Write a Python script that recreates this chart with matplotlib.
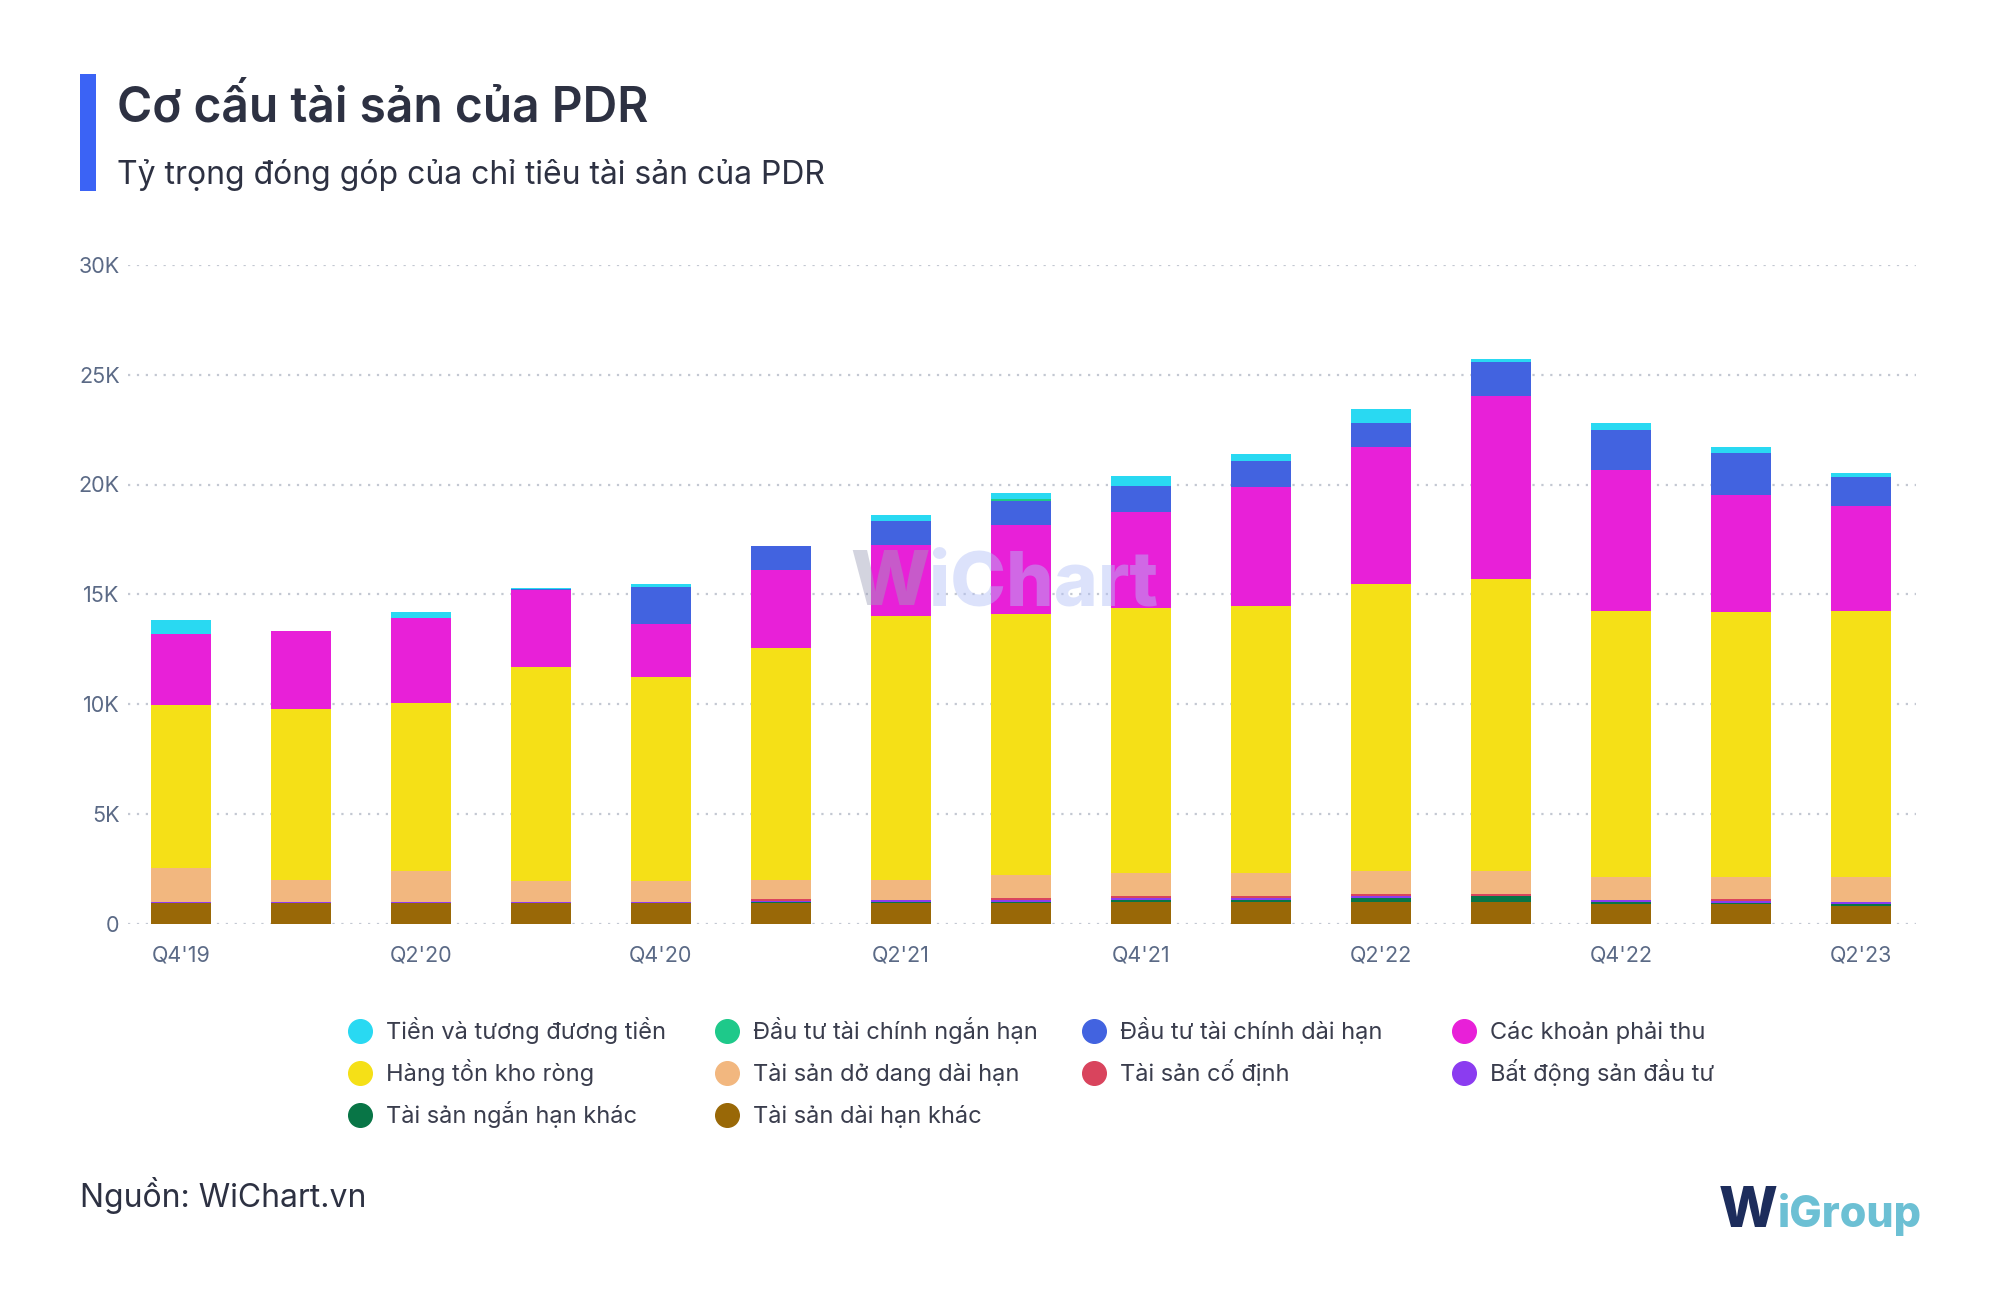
import numpy as np
import matplotlib.pyplot as plt
from matplotlib.lines import Line2D
from matplotlib.patches import Rectangle

plt.rcParams['font.family'] = ['Inter', 'DejaVu Sans']

# Quarters on the x axis
quarters = ["Q4'19", "Q1'20", "Q2'20", "Q3'20", "Q4'20", "Q1'21", "Q2'21", "Q3'21",
            "Q4'21", "Q1'22", "Q2'22", "Q3'22", "Q4'22", "Q1'23", "Q2'23"]

# Values in billion VND (bottom of the stack first)
tai_san_dai_han_khac = [940, 940, 940, 940, 940, 940, 940, 940, 1000, 1000, 1000, 1000, 910, 910, 820]
tai_san_ngan_han_khac = [0, 0, 0, 0, 0, 60, 60, 60, 80, 80, 180, 270, 90, 20, 90]
bat_dong_san_dau_tu = [60, 60, 60, 60, 60, 20, 90, 90, 100, 100, 90, 0, 90, 90, 90]
tai_san_co_dinh = [0, 0, 0, 0, 0, 90, 0, 90, 90, 90, 90, 90, 0, 90, 0]
tai_san_do_dang = [1550, 1000, 1370, 920, 920, 890, 910, 1020, 1010, 1010, 1010, 1010, 1010, 990, 1100]
hang_ton_kho = [7390, 7770, 7690, 9770, 9300, 10560, 12030, 11900, 12100, 12200, 13100, 13330, 12140, 12090, 12140]
cac_khoan_phai_thu = [3260, 3540, 3840, 3510, 2440, 3540, 3220, 4040, 4370, 5400, 6220, 8310, 6400, 5340, 4770]
dttc_dai_han = [0, 0, 0, 50, 1690, 1110, 1070, 1100, 1190, 1170, 1100, 1570, 1860, 1920, 1340]
dttc_ngan_han = [0, 0, 0, 0, 0, 0, 0, 100, 0, 0, 0, 0, 0, 0, 0]
tien = [640, 0, 290, 50, 120, 0, 280, 250, 460, 350, 640, 120, 290, 240, 170]

series = [
    ('Tài sản dài hạn khác', tai_san_dai_han_khac, '#996807'),
    ('Tài sản ngắn hạn khác', tai_san_ngan_han_khac, '#087546'),
    ('Bất động sản đầu tư', bat_dong_san_dau_tu, '#8b3cf0'),
    ('Tài sản cố định', tai_san_co_dinh, '#d9445d'),
    ('Tài sản dở dang dài hạn', tai_san_do_dang, '#f2b77f'),
    ('Hàng tồn kho ròng', hang_ton_kho, '#f5e017'),
    ('Các khoản phải thu', cac_khoan_phai_thu, '#e820d8'),
    ('Đầu tư tài chính dài hạn', dttc_dai_han, '#4263e0'),
    ('Đầu tư tài chính ngắn hạn', dttc_ngan_han, '#1ec98a'),
    ('Tiền và tương đương tiền', tien, '#29d9f2'),
]

W, H = 2000, 1291
fig = plt.figure(figsize=(20, 12.91), dpi=100)
ax = fig.add_axes([128 / W, 1 - 923.5 / H, (1916 - 128) / W, (923.5 - 265) / H])

x = np.arange(len(quarters))
bottom = np.zeros(len(quarters))
for name, vals, color in series:
    ax.bar(x, vals, bottom=bottom, width=0.5, color=color, linewidth=0, zorder=2)
    bottom += np.array(vals)

ax.set_xlim(-0.44, len(quarters) - 1 + 0.46)
ax.set_ylim(0, 30000)
ax.set_yticks(range(0, 30001, 5000))
ax.set_yticklabels(['0'] + [f'{v // 1000}K' for v in range(5000, 30001, 5000)])
ax.set_xticks(x[::2])
ax.set_xticklabels(quarters[::2])
ax.tick_params(axis='both', length=0, labelsize=15.5, labelcolor='#5b6a86')
ax.tick_params(axis='y', pad=6)
ax.tick_params(axis='x', pad=16)
ax.yaxis.grid(True, linestyle=(0, (1, 3)), color='#c3c8d2', linewidth=1.6)
ax.set_axisbelow(True)
for s in ax.spines.values():
    s.set_visible(False)

# Title block
fig.add_artist(Rectangle((80 / W, 1 - 191 / H), 16 / W, 117 / H, transform=fig.transFigure,
                         color='#3b63f5', linewidth=0))
fig.text(117 / W, 1 - 122 / H, 'Cơ cấu tài sản của PDR', fontsize=34.5, fontweight='semibold',
         color='#2d3142', va='baseline')
fig.text(117 / W, 1 - 184 / H, 'Tỷ trọng đóng góp của chỉ tiêu tài sản của PDR', fontsize=23,
         color='#2d3142', va='baseline')

# Legend drawn by hand, 4 columns in legend order
legend_order = series[::-1]
col_x = [360, 727, 1094, 1464]
row_y = [1031, 1073, 1115]
for i, (name, vals, color) in enumerate(legend_order):
    cx = col_x[i % 4]
    cy = row_y[i // 4]
    fig.add_artist(Line2D([cx / W], [1 - cy / H], marker='o', markersize=17, color=color,
                          linestyle='none', transform=fig.transFigure))
    fig.text((cx + 26) / W, 1 - (cy + 8) / H, name, fontsize=17, color='#3a3d4d', va='baseline')

# Source
fig.text(80 / W, 1 - 1207 / H, 'Nguồn: WiChart.vn', fontsize=23, color='#2d3142', va='baseline')

renderer = fig.canvas.get_renderer()

# Watermark
wm1 = fig.text(850 / W, 1 - 605 / H, 'W', fontsize=54, fontweight='heavy', color='#9fa1b9',
               alpha=0.45, va='baseline', zorder=10)
bb = wm1.get_window_extent(renderer)
fig.text(bb.x1 / W, 1 - 605 / H, 'iChart', fontsize=54, fontweight='heavy', color='#b3c0f7',
         alpha=0.45, va='baseline', zorder=10)

# Logo
lg1 = fig.text(1719 / W, 1 - 1227 / H, 'W', fontsize=40, fontweight='heavy', color='#1d2d5c',
               va='baseline')
bb = lg1.get_window_extent(renderer)
fig.text(bb.x1 / W, 1 - 1227 / H, 'iGroup', fontsize=31, fontweight='heavy', color='#6cc0d4',
         va='baseline')

plt.savefig('out.png', dpi=100)
